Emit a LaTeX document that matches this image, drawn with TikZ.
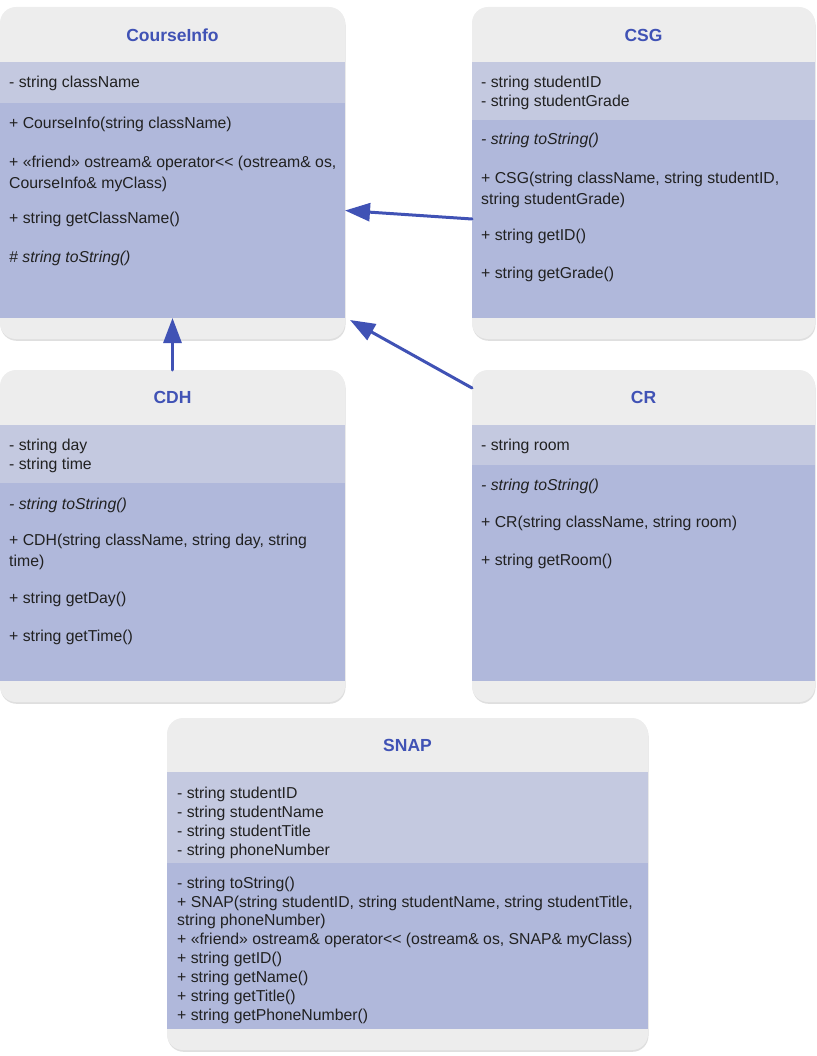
\documentclass[tikz,border=0pt]{standalone}
\usepackage{fontspec}
\setmainfont{Liberation Sans}
\usepackage{tikz}
\usetikzlibrary{arrows.meta,shadows}
\definecolor{tfvrbv}{rgb}{0.25,0.32,0.71}
\definecolor{eeeeee}{rgb}{0.93,0.93,0.93}
\definecolor{cvcaer}{rgb}{0.77,0.79,0.88}
\definecolor{bqbydc}{rgb}{0.69,0.72,0.86}
\definecolor{srsrsr}{rgb}{0.13,0.13,0.13}

\begin{document}
\begin{tikzpicture}[line cap=round,line join=round,>={Triangle[length=25pt,width=18pt]},x=1pt,y=-1pt,
	classbox/.style={fill=eeeeee,rounded corners=16pt,inner sep=0pt,outer sep=0pt,drop shadow={opacity=0.25,shadow xshift=0.5pt,shadow yshift=-1.8pt}},
	attrbox/.style={fill=cvcaer,inner sep=0pt,outer sep=0pt},
	methbox/.style={fill=bqbydc,inner sep=0pt,outer sep=0pt},
	classtitle/.style={color=tfvrbv,font=\fontsize{17.5}{20}\selectfont\bfseries,inner sep=0pt},
	membertxt/.style={color=srsrsr,font=\fontsize{15.8}{19}\selectfont,anchor=west,inner sep=0pt,text height=11.5pt,text depth=3.5pt,yshift=-2pt},
	memberit/.style={membertxt,font=\fontsize{15.8}{19}\selectfont\itshape},
	inherits/.style={->,color=tfvrbv,line width=3pt}]
	\useasboundingbox (0,0) rectangle (816,1056);
	% CourseInfo
	\node[classbox,minimum width=345pt,minimum height=332pt] (ci) at (172.5,173) {};
	\node[attrbox,minimum width=345pt,minimum height=41pt] (ci-a) at (172.5,82.5) {};
	\node[methbox,minimum width=345pt,minimum height=215pt] (ci-m) at (172.5,210.5) {};
	\node[classtitle] (ci-t) at (172.5,35) {CourseInfo};
	\node[membertxt] (ci-a1) at (9,82) {- string className};
	\node[membertxt] (ci-m1) at (9,123) {+ CourseInfo(string className)};
	\node[membertxt] (ci-m2) at (9,162) {+ «friend» ostream\& operator<{}< (ostream\& os,};
	\node[membertxt] (ci-m3) at (9,183) {CourseInfo\& myClass)};
	\node[membertxt] (ci-m4) at (9,218) {+ string getClassName()};
	\node[memberit] (ci-m5) at (9,256) {\# string toString()};
	% CSG
	\node[classbox,minimum width=343pt,minimum height=332pt] (csg) at (643.5,173) {};
	\node[attrbox,minimum width=343pt,minimum height=58pt] (csg-a) at (643.5,91) {};
	\node[methbox,minimum width=343pt,minimum height=198pt] (csg-m) at (643.5,219) {};
	\node[classtitle] (csg-t) at (643.5,35) {CSG};
	\node[membertxt] (csg-a1) at (481,82) {- string studentID};
	\node[membertxt] (csg-a2) at (481,101) {- string studentGrade};
	\node[memberit] (csg-m1) at (481,138.5) {- string toString()};
	\node[membertxt] (csg-m2) at (481,178) {+ CSG(string className, string studentID,};
	\node[membertxt] (csg-m3) at (481,199) {string studentGrade)};
	\node[membertxt] (csg-m4) at (481,235) {+ string getID()};
	\node[membertxt] (csg-m5) at (481,273) {+ string getGrade()};
	% CDH
	\node[classbox,minimum width=345pt,minimum height=332pt] (cdh) at (172.5,536) {};
	\node[attrbox,minimum width=345pt,minimum height=58pt] (cdh-a) at (172.5,454) {};
	\node[methbox,minimum width=345pt,minimum height=198pt] (cdh-m) at (172.5,582) {};
	\node[classtitle] (cdh-t) at (172.5,397) {CDH};
	\node[membertxt] (cdh-a1) at (9,444) {- string day};
	\node[membertxt] (cdh-a2) at (9,463) {- string time};
	\node[memberit] (cdh-m1) at (9,503) {- string toString()};
	\node[membertxt] (cdh-m2) at (9,539) {+ CDH(string className, string day, string};
	\node[membertxt] (cdh-m3) at (9,560) {time)};
	\node[membertxt] (cdh-m4) at (9,597) {+ string getDay()};
	\node[membertxt] (cdh-m5) at (9,635) {+ string getTime()};
	% CR
	\node[classbox,minimum width=343pt,minimum height=332pt] (cr) at (643.5,536) {};
	\node[attrbox,minimum width=343pt,minimum height=40pt] (cr-a) at (643.5,445) {};
	\node[methbox,minimum width=343pt,minimum height=216pt] (cr-m) at (643.5,573) {};
	\node[classtitle] (cr-t) at (643.5,397) {CR};
	\node[membertxt] (cr-a1) at (481,444) {- string room};
	\node[memberit] (cr-m1) at (481,484) {- string toString()};
	\node[membertxt] (cr-m2) at (481,521) {+ CR(string className, string room)};
	\node[membertxt] (cr-m3) at (481,559) {+ string getRoom()};
	% SNAP
	\node[classbox,minimum width=481pt,minimum height=332pt] (snap) at (407.5,884) {};
	\node[attrbox,minimum width=481pt,minimum height=91pt] (snap-a) at (407.5,817.5) {};
	\node[methbox,minimum width=481pt,minimum height=166pt] (snap-m) at (407.5,946) {};
	\node[classtitle] (snap-t) at (407.5,745) {SNAP};
	\node[membertxt] (snap-a1) at (177,792) {- string studentID};
	\node[membertxt] (snap-a2) at (177,811) {- string studentName};
	\node[membertxt] (snap-a3) at (177,830) {- string studentTitle};
	\node[membertxt] (snap-a4) at (177,849) {- string phoneNumber};
	\node[membertxt] (snap-m1) at (177,882) {- string toString()};
	\node[membertxt] (snap-m2) at (177,901) {+ SNAP(string studentID, string studentName, string studentTitle,};
	\node[membertxt] (snap-m3) at (177,919) {string phoneNumber)};
	\node[membertxt] (snap-m4) at (177,938) {+ «friend» ostream\& operator<{}< (ostream\& os, SNAP\& myClass)};
	\node[membertxt] (snap-m5) at (177,957) {+ string getID()};
	\node[membertxt] (snap-m6) at (177,976) {+ string getName()};
	\node[membertxt] (snap-m7) at (177,995) {+ string getTitle()};
	\node[membertxt] (snap-m8) at (177,1014) {+ string getPhoneNumber()};
	% inheritance
	\draw[inherits] (csg-m.west) -- (ci-m.east);
	\draw[inherits] ([yshift=-18pt]cr.north west) -- ([xshift=5pt,yshift=-2pt]ci-m.south east);
	\draw[inherits] (cdh.north) -- (ci-m.south);
\end{tikzpicture}
\end{document}
